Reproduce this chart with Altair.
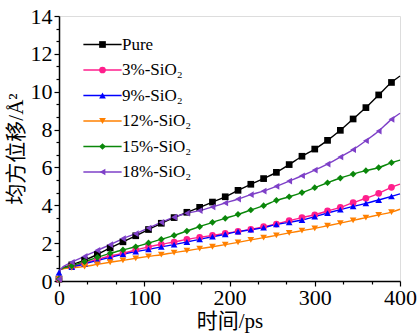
import altair as alt
import pandas as pd

# time points (ps): t=0, first frame, marker points every 15 ps, end of line
times = [0, 2] + list(range(15, 391, 15)) + [400]

names = ["Pure", "3%-SiO₂", "9%-SiO₂", "12%-SiO₂", "15%-SiO₂", "18%-SiO₂"]
colors = ["#000000", "#FF1E8C", "#0000FF", "#FF8000", "#0A870A", "#7E40C8"]
shapes = ["square", "circle", "triangle-up", "triangle-down", "diamond", "triangle-left"]

pure = [0.1, 0.62, 0.85, 1.10, 1.40, 1.75, 2.07, 2.39, 2.72, 3.05, 3.35, 3.63, 3.89, 4.17,
        4.45, 4.79, 5.11, 5.41, 5.74, 6.15, 6.59, 6.97, 7.43, 7.96, 8.56, 9.16, 9.83, 10.49, 10.83]
sio2_3 = [0.1, 0.62, 0.78, 0.95, 1.14, 1.32, 1.46, 1.64, 1.80, 1.94, 2.06, 2.20, 2.31, 2.41,
          2.52, 2.62, 2.73, 2.87, 3.01, 3.19, 3.35, 3.50, 3.70, 3.89, 4.14, 4.37, 4.63, 4.95, 5.12]
sio2_9 = [0.45, 0.62, 0.74, 0.90, 1.09, 1.25, 1.41, 1.55, 1.67, 1.80, 1.92, 2.06, 2.20, 2.34,
          2.47, 2.61, 2.71, 2.82, 2.99, 3.10, 3.22, 3.40, 3.59, 3.77, 3.94, 4.10, 4.28, 4.47, 4.60]
sio2_12 = [0.1, 0.62, 0.70, 0.76, 0.88, 0.99, 1.09, 1.20, 1.30, 1.39, 1.50, 1.60, 1.71, 1.81,
           1.92, 2.04, 2.17, 2.29, 2.41, 2.54, 2.66, 2.78, 2.92, 3.06, 3.20, 3.35, 3.49, 3.64, 3.79]
sio2_15 = [0.1, 0.62, 0.80, 1.02, 1.25, 1.46, 1.64, 1.81, 2.01, 2.20, 2.41, 2.64, 2.87, 3.10,
           3.31, 3.52, 3.75, 3.98, 4.26, 4.45, 4.67, 4.93, 5.19, 5.44, 5.65, 5.83, 5.99, 6.25, 6.39]
sio2_18 = [0.1, 0.62, 0.99, 1.30, 1.62, 1.92, 2.24, 2.50, 2.80, 3.10, 3.37, 3.58, 3.72, 3.91,
           4.12, 4.33, 4.56, 4.75, 5.00, 5.28, 5.56, 5.86, 6.18, 6.55, 6.94, 7.41, 7.92, 8.54, 8.86]

x_major = [0, 100, 200, 300, 400]
y_major = [0, 2, 4, 6, 8, 10, 12, 14]
x_minor = [33.33, 66.67, 133.33, 166.67, 233.33, 266.67, 333.33, 366.67]
y_minor = [v + d for v in y_major[:-1] for d in (0.667, 1.333)]

series = [pure, sio2_3, sio2_9, sio2_12, sio2_15, sio2_18]
rows = []
for name, vals in zip(names, series):
    for t, v in zip(times, vals):
        rows.append({"t": t, "v": v, "s": name, "m": (t % 15 == 0 and t <= 390)})
df = pd.DataFrame(rows)

FONT = "Liberation Serif, Noto Sans CJK SC"
TFONT = "Liberation Serif, Noto Sans CJK SC"

x_scale = alt.Scale(domain=[0, 400], nice=False, zero=False)
y_scale = alt.Scale(domain=[0, 14], nice=False)
c_scale = alt.Scale(domain=names, range=colors)
s_scale = alt.Scale(domain=names, range=shapes)

LX, LY = 35, 20
legend_common = dict(orient="none", legendX=LX, legendY=LY, title=None, padding=0,
                     symbolSize=45, labelFont=FONT, labelFontSize=17, labelColor="black",
                     labelOffset=11, rowPadding=7.5, labelLimit=200)

lines = alt.Chart(df).mark_line(strokeWidth=1.4, interpolate="monotone").encode(
    x=alt.X("t:Q", scale=x_scale,
            axis=alt.Axis(values=x_major, title="时间/ps", format="d", grid=False,
                          labelFont=FONT, labelFontSize=22, labelColor="black",
                          titleFont=TFONT, titleFontSize=21, titleFontWeight="normal",
                          titleColor="black", titlePadding=2, labelPadding=1,
                          tickSize=5, tickColor="black", tickWidth=1.2,
                          domainColor="black", domainWidth=1.5, orient="bottom",
                          labelFlush=False)),
    y=alt.Y("v:Q", scale=y_scale,
            axis=alt.Axis(values=y_major, title="均方位移/Å²", format="d", grid=False,
                          labelFont=FONT, labelFontSize=22, labelColor="black",
                          titleFont=TFONT, titleFontSize=21, titleFontWeight="normal",
                          titleColor="black", titlePadding=4, labelPadding=2,
                          tickSize=5, tickColor="black", tickWidth=1.2,
                          domainColor="black", domainWidth=1.5, orient="left")),
    color=alt.Color("s:N", scale=c_scale, sort=names,
                    legend=alt.Legend(symbolType="M-5.7,0H5.7", symbolStrokeWidth=1.5,
                                      **legend_common)),
)

points = alt.Chart(df).transform_filter("datum.m").mark_point(
    filled=True, size=45, opacity=1).encode(
    x=alt.X("t:Q", scale=x_scale,
            axis=alt.Axis(values=x_minor, labels=False, title=None, grid=False,
                          domain=False, tickSize=3, tickColor="black", tickWidth=1.2,
                          orient="bottom")),
    y=alt.Y("v:Q", scale=y_scale,
            axis=alt.Axis(values=y_minor, labels=False, title=None, grid=False,
                          domain=False, tickSize=3, tickColor="black", tickWidth=1.2,
                          orient="left")),
    color=alt.Color("s:N", scale=c_scale, sort=names,
                    legend=alt.Legend(labelOpacity=0, **legend_common)),
    shape=alt.Shape("s:N", scale=s_scale, sort=names,
                    legend=alt.Legend(labelOpacity=0, **legend_common)),
)

chart = alt.layer(lines, points).resolve_scale(
    color="independent", shape="independent"
).resolve_axis(x="independent", y="independent").properties(
    width=341, height=265,
    autosize=alt.AutoSizeParams(type="none"),
    padding={"left": 59, "top": 16, "right": 20, "bottom": 53},
).configure_view(stroke=None).configure(background="white")

chart.save("out.html", embed_options={"renderer": "svg", "actions": False})
